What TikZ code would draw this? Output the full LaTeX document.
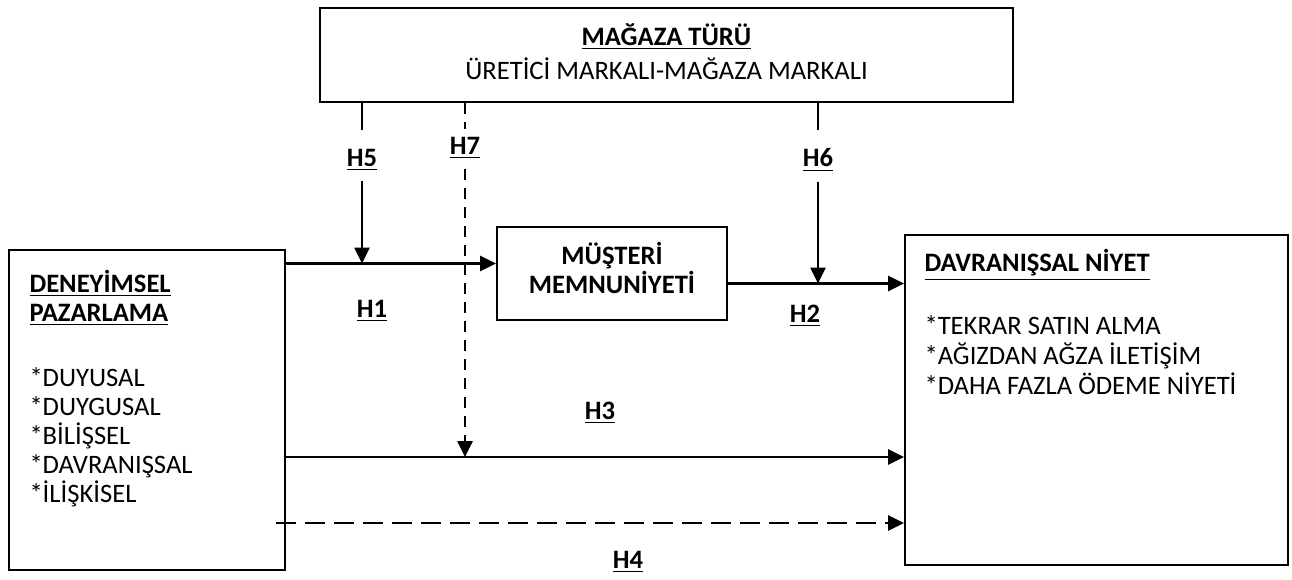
\documentclass[tikz,border=0pt]{standalone}
\usepackage{fontspec}
\setmainfont{Carlito}
\usetikzlibrary{arrows.meta}

\tikzset{
  kutu/.style={draw, line width=0.9pt, inner sep=0pt},
  ok/.style={line width=1.3pt, -{Triangle[length=8pt,width=7.5pt]}},
  kesik/.style={dash pattern=on 10pt off 4.5pt},
  kesikk/.style={dash pattern=on 5.5pt off 4pt},
  hlabel/.style={font=\bfseries, inner sep=5pt},
  metin/.style={align=left, inner sep=0pt, anchor=north west},
}

\begin{document}
\fontsize{13.3}{14.5}\selectfont
\begin{tikzpicture}[x=0.5pt, y=-0.5pt]
\useasboundingbox (0,0) rectangle (1292,579);

% kutular
\node[kutu, minimum width=346.5pt, minimum height=47pt] (mt) at (666.5,55) {};
\node[kutu, minimum width=138pt, minimum height=160pt] (dp) at (147,410) {};
\node[kutu, minimum width=115pt, minimum height=46.5pt] (mm) at (612,273.5) {};
\node[kutu, minimum width=191.5pt, minimum height=165pt] (dn) at (1096.5,400) {};

% kutu metinleri
\node[align=center] at ([yshift=1.5pt]mt.center) {\textbf{\underline{MAĞAZA TÜRÜ}}\\[2.5pt]ÜRETİCİ MARKALI-MAĞAZA MARKALI};
\node[align=center, font=\bfseries] at ([yshift=3pt]mm.center) {MÜŞTERİ\\MEMNUNİYETİ};
\node[metin] at ([xshift=10.5pt,yshift=-10.5pt]dp.north west)
  {\textbf{\underline{DENEYİMSEL}}\\\textbf{\underline{PAZARLAMA}}\\[18pt]
   *DUYUSAL\\*DUYGUSAL\\*BİLİŞSEL\\*DAVRANIŞSAL\\*İLİŞKİSEL};
\node[metin] at ([xshift=10pt,yshift=-7.5pt]dn.north west)
  {\textbf{\underline{DAVRANIŞSAL NİYET}}\\[17pt]
   *TEKRAR SATIN ALMA\\[0.5pt]*AĞIZDAN AĞZA İLETİŞİM\\[0.5pt]*DAHA FAZLA ÖDEME NİYETİ};

% ana yollar
\path (dp.east |- mm.west) ++(0,-10) coordinate (h1a);
\draw[ok] (h1a) -- (h1a -| mm.west);
\path (mm.east) ++(0,10) coordinate (h2a);
\draw[ok] (h2a) -- (h2a -| dn.west);
\path (dp.east) ++(0,47) coordinate (h3a);
\draw[ok] (h3a) -- (h3a -| dn.west);
\path (dp.east) ++(-10,113) coordinate (h4a);
\draw[ok, kesik] (h4a) -- (h4a -| dn.west);

% etiketler
\node[hlabel] (h1) at (372,311) {\underline{H1}};
\node[hlabel] (h2) at (805,316) {\underline{H2}};
\node[hlabel] (h3) at (600,413) {\underline{H3}};
\node[hlabel] (h4) at (628,562) {\underline{H4}};
\node[hlabel] (h5) at (362,160) {\underline{H5}};
\node[hlabel] (h6) at (818,160) {\underline{H6}};
\node[hlabel] (h7) at (465,148) {\underline{H7}};

% düzenleyici etkiler
\draw[line width=1.3pt] (h5 |- mt.south) -- ++(0,27);
\draw[ok] (h5.south) -- (h5 |- h1a);
\draw[line width=1.3pt] (h6 |- mt.south) -- ++(0,27);
\draw[ok] (h6.south) -- (h6 |- h2a);
\draw[line width=1.3pt, kesikk] (h7 |- mt.south) -- ++(0,26);
\draw[ok, kesikk] (h7.south) -- (h7 |- h3a);
\end{tikzpicture}
\end{document}
